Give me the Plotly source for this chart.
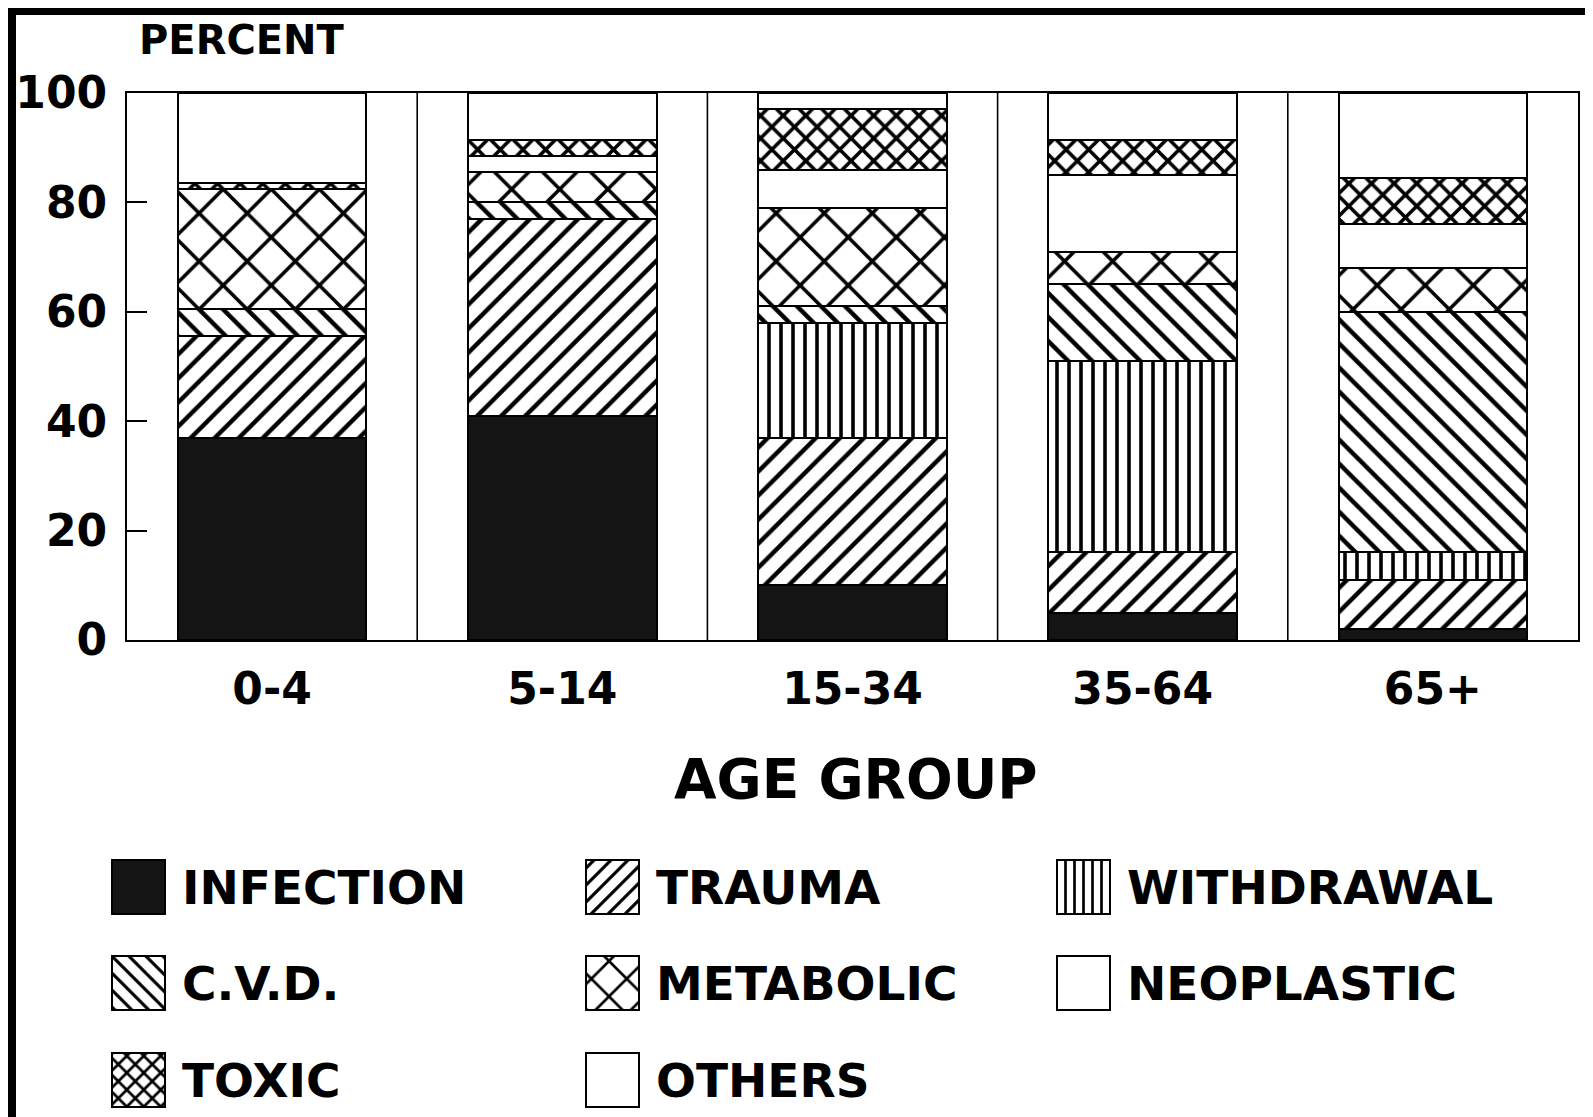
import plotly.graph_objects as go

# ---------------- data ----------------
categories = ["0-4", "5-14", "15-34", "35-64", "65+"]
series_names = ["INFECTION", "TRAUMA", "WITHDRAWAL", "C.V.D.", "METABOLIC",
                "NEOPLASTIC", "TOXIC", "OTHERS"]
infection = [37, 41, 10, 5, 2]
trauma = [18.5, 36, 27, 11, 9]
withdrawal = [0, 0, 21, 35, 5]
cvd = [5, 3, 3, 14, 44]
metabolic = [22, 5.5, 18, 6, 8]
neoplastic = [0, 3, 7, 14, 8]
toxic = [1, 3, 11, 6.5, 8.5]
others = [16.5, 8.5, 3, 8.5, 15.5]
y_ticks = [0, 20, 40, 60, 80, 100]

series_values = [infection, trauma, withdrawal, cvd, metabolic, neoplastic, toxic, others]

# ---------------- styles ----------------
styles = [
    dict(color="#141414", shape="", size=10, solidity=0.3),
    dict(color="white", shape="/", size=17, solidity=0.26),
    dict(color="white", shape="|", size=12, solidity=0.3),
    dict(color="white", shape="\\", size=17, solidity=0.26),
    dict(color="white", shape="x", size=34, solidity=0.2),
    dict(color="white", shape="", size=10, solidity=0.3),
    dict(color="white", shape="x", size=16, solidity=0.4),
    dict(color="white", shape="", size=10, solidity=0.3),
]
legend_styles = [
    dict(s, size=max(8, int(s["size"] * 0.75))) for s in styles
]

# page offset (browser body margin) compensation
OFF = 8
REF_W, REF_H = 1593, 1117
W, H = REF_W - OFF, REF_H - OFF
P_LEFT, P_RIGHT, P_TOP, P_BOTTOM = 127, 1578, 93, 640
FONT = "DejaVu Sans"


def px_x(x):
    return (x - OFF) / W


def px_y(y):
    return 1 - (y - OFF) / H


fig = go.Figure()

xpos = list(range(len(categories)))
for name, vals, st in zip(series_names, series_values, styles):
    fig.add_trace(go.Bar(
        x=xpos, y=vals, name=name, width=0.65,
        marker=dict(color=st["color"], line=dict(color="black", width=2),
                    pattern=dict(shape=st["shape"], size=st["size"],
                                 solidity=st["solidity"], fgcolor="black",
                                 bgcolor=st["color"], fillmode="replace")),
        showlegend=False, xaxis="x", yaxis="y", hoverinfo="name+y"))

# ---------------- custom legend (second axis in reference-pixel units) ----------------
leg_col_x = [112, 586, 1057]
leg_row_top = [860, 956, 1053]
SW_W, SW_H, LABEL_GAP = 53, 54, 68
annotations = []
for i, (name, st) in enumerate(zip(series_names, legend_styles)):
    c, r = i % 3, i // 3
    xl = leg_col_x[c]
    yt = leg_row_top[r]
    fig.add_trace(go.Bar(
        x=[xl + SW_W / 2], y=[SW_H], base=[yt], width=SW_W,
        marker=dict(color=st["color"], line=dict(color="black", width=2),
                    pattern=dict(shape=st["shape"], size=st["size"],
                                 solidity=st["solidity"], fgcolor="black",
                                 bgcolor=st["color"], fillmode="replace")),
        showlegend=False, xaxis="x2", yaxis="y2", hoverinfo="skip"))
    annotations.append(dict(
        x=xl + LABEL_GAP, y=yt + SW_H / 2, xref="x2", yref="y2",
        text=name, showarrow=False, xanchor="left", yanchor="middle",
        font=dict(family=FONT, size=47, color="black", weight="bold")))

annotations.append(dict(
    x=px_x(242), y=px_y(40), xref="paper", yref="paper", text="PERCENT",
    showarrow=False, xanchor="center", yanchor="middle",
    font=dict(family=FONT, size=40, color="black", weight="bold")))
annotations.append(dict(
    x=px_x(856), y=px_y(779), xref="paper", yref="paper", text="AGE GROUP",
    showarrow=False, xanchor="center", yanchor="middle",
    font=dict(family=FONT, size=55, color="black", weight="bold")))

shapes = []
# vertical separators between age groups
for i in range(len(categories) - 1):
    shapes.append(dict(type="line", xref="x", yref="y", x0=i + 0.5, x1=i + 0.5,
                       y0=0, y1=100, line=dict(color="black", width=1.6)))
# black scan borders
shapes.append(dict(type="rect", xref="paper", yref="paper", x0=0, x1=8 / W,
                   y0=0, y1=1, fillcolor="black", line=dict(width=0)))
shapes.append(dict(type="rect", xref="paper", yref="paper", x0=0, x1=1,
                   y0=1 - 7 / H, y1=1, fillcolor="black", line=dict(width=0)))

y2_dom = 0.3
fig.update_layout(
    width=W, height=H, barmode="stack",
    paper_bgcolor="white", plot_bgcolor="white",
    margin=dict(l=0, r=0, t=0, b=0, pad=0, autoexpand=False),
    xaxis=dict(domain=[px_x(P_LEFT), px_x(P_RIGHT)], anchor="y",
               range=[-0.5, len(categories) - 0.5],
               tickvals=xpos, ticktext=categories, ticks="",
               showgrid=False, zeroline=False,
               showline=True, mirror=True, linecolor="black", linewidth=2,
               ticklabelstandoff=9, automargin=False,
               tickfont=dict(family=FONT, size=44, color="black", weight="bold")),
    yaxis=dict(domain=[px_y(P_BOTTOM), px_y(P_TOP)], anchor="x",
               range=[0, 100], tickvals=y_ticks, ticks="inside", ticklen=20,
               tickwidth=1.5, tickcolor="black",
               showgrid=False, zeroline=False, automargin=False,
               showline=True, mirror=True, linecolor="black", linewidth=2,
               ticklabelstandoff=9,
               tickfont=dict(family=FONT, size=44, color="black", weight="bold")),
    xaxis2=dict(domain=[0, 1], anchor="y2", range=[OFF, REF_W], visible=False),
    yaxis2=dict(domain=[0, y2_dom], anchor="x2",
                range=[REF_H, OFF + (1 - y2_dom) * H], visible=False),
    annotations=annotations, shapes=shapes,
    bargap=0,
)

fig.write_html("out.html")
